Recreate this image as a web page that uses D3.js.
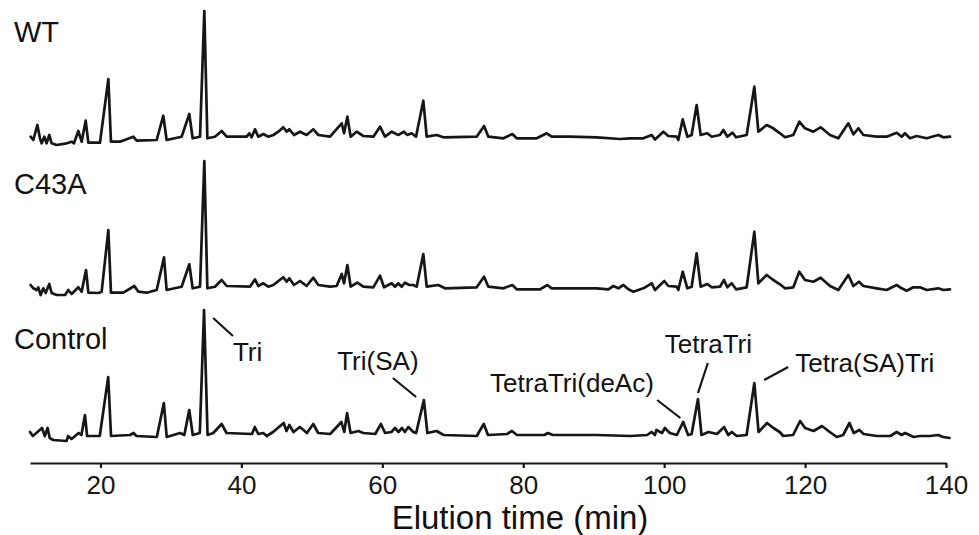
<!DOCTYPE html>
<meta charset="utf-8">
<head>
  <title>Elution profiles: WT, C43A, Control</title>
</head>

<style>
body {
  margin: 0;
  background: #fff;
  font-family: "Liberation Sans", Arial, Helvetica, sans-serif;
}
svg {
  display: block;
}
.trace {
  fill: none;
  stroke: #161616;
  stroke-width: 2.7px;
  stroke-linejoin: round;
  stroke-linecap: round;
}
.axis path, .axis line {
  stroke: #161616;
  stroke-width: 2.2px;
}
.axis text {
  font-family: "Liberation Sans", Arial, sans-serif;
  font-size: 26px;
  fill: #161616;
}
.sample {
  font-size: 29px;
  fill: #111;
}
.note {
  font-size: 26px;
  fill: #111;
}
.leader {
  stroke: #161616;
  stroke-width: 2.2px;
}
</style>

<body>
<div id="chart"></div>

<script src="https://cdnjs.cloudflare.com/ajax/libs/d3/7.8.5/d3.min.js"></script>
<script>
// sample names, top to bottom
var sampleNames = ["WT", "C43A", "Control"]

// elution time (min), signal (arbitrary units, 0 = baseline)
var wtTrace = [
  [10.09,3.3],[10.47,0],[11.04,15],[11.42,1.7],[11.65,-3.3],[12.03,3.3],[12.36,-3.3],[12.74,5],
  [13.07,-3.3],[13.78,-5],[15.2,-3.3],[15.91,-1.7],[16.24,-3.3],[16.86,9],[17.33,-1.7],[17.9,19.3],
  [18.28,-2.7],[19.93,-2.7],[21.12,61],[21.49,-1.7],[22.77,-1.7],[24.66,3.3],[25.14,-0.7],[27.98,0],
  [28.92,24.3],[29.39,0],[31.52,3.3],[32.61,26],[33.08,1.7],[34.13,3.3],[34.74,129],[35.17,1.7],
  [36.25,3.3],[37.2,9],[37.91,3.3],[40.75,3.3],[41.13,6.7],[41.46,2.7],[41.93,10.7],[42.4,3.3],
  [43.11,6],[43.82,3.3],[44.53,5],[45.24,8.3],[45.95,12.7],[46.43,8.3],[46.8,10.7],[47.47,5],
  [48.32,8.3],[49.26,5],[50.21,10.7],[50.92,5],[52.58,3.3],[54.24,16.7],[54.57,6.7],[55.04,23.3],
  [55.51,3.3],[56.36,8.3],[57.31,4],[58.73,3.3],[59.68,13.3],[60.38,3.3],[61.33,8.3],[62.27,5],
  [63.08,8.3],[63.55,5],[64.17,6.7],[64.78,3.3],[65.82,39.3],[66.3,3.3],[67.72,5],[68.66,2.7],
  [73.39,3.3],[74.44,14],[75.05,3.3],[77.18,1.7],[78.46,6],[79.07,1.7],[81.91,1.7],[83.33,6.7],
  [84.04,3.3],[86.64,3.3],[90.42,2.7],[93.74,1],[95.16,1.7],[97.05,1.7],[98.23,5],[98.7,0.5],
  [99.88,8.3],[100.59,4],[101.77,3.3],[102.01,0],[102.63,20.7],[103.29,3.3],[103.9,5],[104.61,35],
  [105.18,5],[106.13,6.7],[106.74,3.3],[107.92,5],[108.4,10],[108.97,3.3],[109.72,7.3],[110.2,2.7],
  [111.71,5],[112.8,53.3],[113.37,8.3],[114.55,15],[115.49,11.7],[116.44,6.7],[117.15,2.7],[118.33,5],
  [119.18,18.3],[119.99,11.7],[121.17,8.3],[122.21,12.7],[123.54,5],[124.72,1.7],[126.14,16.7],[126.85,5.7],
  [127.56,11.7],[128.27,5],[130.16,3.3],[131.58,3.3],[133.0,7.3],[133.71,3.3],[134.18,6.7],[134.89,1.7],
  [135.84,4],[137.26,1.7],[138.91,5],[139.62,2.7],[140.57,3.3]
]

var c43aTrace = [
  [10.09,8],[10.47,4.7],[10.94,3],[11.18,5.7],[11.51,-2],[11.89,4.7],[12.22,0],[12.74,9],
  [13.07,0],[13.78,-2],[14.97,-2],[15.44,3],[15.91,-1],[16.86,5.7],[17.33,1.3],[17.95,23],
  [18.28,0.3],[19.7,0],[20.17,1.3],[21.12,63],[21.49,0.3],[23.24,0.3],[24.81,7],[25.38,1.3],
  [26.56,0.3],[27.98,3],[29.02,35.7],[29.39,3],[31.52,6.3],[32.61,28.7],[33.08,4.7],[34.13,6.3],
  [34.74,132],[35.17,4.7],[36.25,6.3],[37.2,13],[37.91,7],[41.22,6.3],[41.93,13.7],[42.4,7],
  [43.11,9.7],[43.82,6.3],[44.53,8],[45.95,15.7],[46.43,11.3],[46.8,14.7],[47.47,8],[48.32,12],
  [49.26,7],[50.21,15.3],[50.92,8],[52.58,6.3],[53.52,7],[54.24,19],[54.57,9.7],[55.04,28],
  [55.51,6.3],[56.46,10.3],[57.31,6.3],[58.73,5.7],[59.68,17.3],[60.24,5.7],[61.33,9.7],[61.8,6.3],
  [62.27,9.7],[62.75,6.3],[63.22,10.3],[63.84,8],[64.4,8],[64.88,6.3],[65.82,39],[66.3,6.3],
  [67.95,8],[68.9,4.7],[73.39,5.7],[74.44,16.3],[75.05,6.3],[77.18,4.7],[78.46,8],[79.07,3.7],
  [82.38,3.7],[83.42,8],[84.04,4.7],[85.69,4.7],[90.42,4.7],[92.08,3.7],[92.79,7],[93.5,4.7],
  [94.21,8],[94.92,3.7],[95.63,1.3],[97.05,4.7],[98.23,9.7],[98.7,3],[100.02,12],[100.59,7],
  [101.77,6.3],[102.01,3],[102.63,21.3],[103.29,4.7],[103.9,6.3],[104.61,39.7],[105.18,6.3],[106.13,9],
  [106.74,5.7],[107.92,6.3],[108.49,13],[108.97,5.7],[109.58,9.7],[110.2,3.7],[111.71,5.7],[112.8,61.3],
  [113.37,9.7],[114.55,18],[115.49,13],[116.44,8.7],[117.15,4.7],[118.33,5.7],[119.18,21.3],[119.99,13],
  [121.17,11.3],[122.21,15.3],[123.54,7],[124.72,3],[126.14,18],[126.85,7],[127.65,11.3],[128.27,7],
  [130.16,4.7],[131.58,3],[133.0,8],[133.71,4.7],[134.42,2.3],[135.36,5.7],[136.31,5.7],[137.26,3],
  [138.91,4.7],[139.62,3],[140.57,3.7]
]

var controlTrace = [
  [10.0,4],[10.4,0],[10.9,3],[11.7,8],[12.1,0],[12.5,8],[12.8,-2],[13.3,-4],
  [15.2,-5],[15.4,0],[15.9,-3],[16.9,3],[17.3,1],[17.8,21],[18.1,0],[19.9,0],
  [21.1,59],[21.5,0],[24.2,1],[24.7,3],[25.1,0],[28.0,-1],[29.0,33],[29.4,-1],
  [31.3,3],[31.9,1],[32.6,26],[33.1,1],[34.1,3],[34.7,126],[35.2,1],[36.0,3],
  [37.2,12],[37.9,3],[41.5,2],[41.9,9],[42.4,2],[43.1,3],[43.6,0],[44.5,4],
  [46.0,13],[46.4,5],[46.8,11],[47.4,4],[48.3,9],[49.3,3],[50.2,12],[50.9,3],
  [52.6,2],[54.2,14],[54.6,4],[55.0,23],[55.5,3],[56.6,5],[57.3,3],[59.0,2],
  [59.8,12],[60.4,3],[61.3,4],[61.8,8],[62.3,4],[62.8,8],[63.2,4],[63.7,9],
  [64.4,4],[64.8,3],[65.9,36],[66.4,3],[67.7,5],[68.7,1],[73.4,0],[74.4,12],
  [75.0,1],[77.7,2],[78.4,5],[79.1,1],[83.0,1],[83.5,3],[84.2,1],[90.4,1],
  [95.2,0],[97.6,1],[98.2,4],[98.7,1],[98.9,6],[99.7,3],[100.1,8],[100.8,3],
  [101.8,1],[102.7,14],[103.4,1],[103.9,2],[104.8,37],[105.3,1],[106.3,4],[107.5,2],
  [108.5,9],[109.1,1],[109.6,4],[110.3,0],[111.7,1],[112.8,53],[113.4,4],[114.6,13],
  [115.5,8],[116.4,4],[116.9,0],[118.3,1],[119.3,15],[120.0,8],[121.2,5],[122.4,10],
  [123.5,4],[124.5,-1],[125.4,1],[126.3,13],[126.9,3],[127.7,6],[128.3,2],[130.2,0],
  [132.1,0],[133.0,4],[133.7,1],[134.2,3],[135.4,-1],[136.3,0],[137.7,0],[138.9,1],
  [139.6,-1],[140.5,-2]
]

var xTicks = [20, 40, 60, 80, 100, 120, 140]

// peak labels on the Control trace: text anchor and leader line, in (min, signal)
var peakLabels = ["Tri", "Tri(SA)", "TetraTri(deAc)", "TetraTri", "Tetra(SA)Tri"]
var labelPos = [[38.8,75], [53.6,66], [75.3,44], [100.1,83], [118.6,64]]
var leaderFrom = [[36.0,118], [61.5,58], [99.0,36], [106.2,73], [117.6,69]]
var leaderTo = [[38.8,100], [64.8,39], [102.3,18], [104.8,43], [114.2,56]]

var width = 979, height = 535

var svg = d3.select("#chart")
  .append("svg")
  .attr("width", width)
  .attr("height", height)

var x = d3.scaleLinear()
  .domain([10, 140])
  .range([30, 946])

// one strip per sample, stacked
var traces = [wtTrace, c43aTrace, controlTrace]
var baselines = [140, 293, 436]
var panels = sampleNames.map(function(name, i) {
  return {
    name: name,
    trace: traces[i],
    y: d3.scaleLinear().domain([0, 140]).range([baselines[i], baselines[i] - 140])
  }
})
var labelBaselines = [42, 194, 349]

panels.forEach(function(p, i) {
  var line = d3.line()
    .x(function(d) { return x(d[0]) })
    .y(function(d) { return p.y(d[1]) })

  svg.append("path")
    .datum(p.trace)
    .attr("class", "trace")
    .attr("d", line)

  svg.append("text")
    .attr("class", "sample")
    .attr("x", 14)
    .attr("y", labelBaselines[i])
    .text(p.name)
})

// annotations on the Control strip
var yc = panels[2].y
peakLabels.forEach(function(label, i) {
  svg.append("line")
    .attr("class", "leader")
    .attr("x1", x(leaderFrom[i][0]))
    .attr("y1", yc(leaderFrom[i][1]))
    .attr("x2", x(leaderTo[i][0]))
    .attr("y2", yc(leaderTo[i][1]))
  svg.append("text")
    .attr("class", "note")
    .attr("x", x(labelPos[i][0]))
    .attr("y", yc(labelPos[i][1]))
    .text(label)
})

// x axis
var axis = svg.append("g")
  .attr("class", "axis")
  .attr("transform", "translate(0,463)")
  .call(d3.axisBottom(x).tickValues(xTicks).tickSize(5).tickSizeOuter(0).tickPadding(8))
axis.selectAll(".tick line").attr("stroke-width", 2.2)

svg.append("text")
  .attr("x", 520)
  .attr("y", 529)
  .attr("text-anchor", "middle")
  .style("font-size", "33px")
  .style("fill", "#111")
  .text("Elution time (min)")
</script>
</body>
</html>
